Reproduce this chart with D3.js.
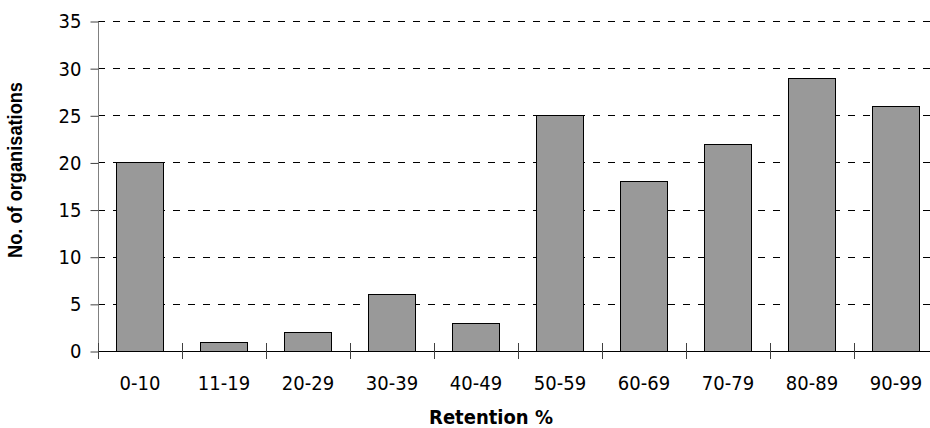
<!DOCTYPE html>
<html>
<head>
<meta charset="utf-8">
<script src="https://cdn.jsdelivr.net/npm/d3@7"></script>
<style>
  html, body { margin: 0; padding: 0; background: #fff; }
  svg { display: block; }
  .lbl { font-family: "DejaVu Sans Condensed", "DejaVu Sans", sans-serif; font-size: 20px; fill: #000; }
</style>
</head>
<body>
<svg id="chart" width="930" height="428"></svg>
<script>
// Retention bands and the number of organisations in each
const categories = ["0-10", "11-19", "20-29", "30-39", "40-49", "50-59", "60-69", "70-79", "80-89", "90-99"];
const organisations = [20, 1, 2, 6, 3, 25, 18, 22, 29, 26];
const yTicks = [0, 5, 10, 15, 20, 25, 30, 35];
const yTitle = "No. of organisations";
const xTitle = "Retention %";

const W = 930, H = 428;
const plotLeft = 98, plotRight = 938, plotTop = 21, plotBottom = 351;

const svg = d3.select("#chart");

const y = d3.scaleLinear().domain([0, 35]).range([plotBottom, plotTop]);
const xCat = d3.scaleBand().domain(categories).range([plotLeft, plotRight]).paddingInner(0.44).paddingOuter(0.22);
const xSlot = d3.scaleBand().domain(categories).range([plotLeft, plotRight]).padding(0);

// dashed gridlines
svg.append("g").selectAll("line").data(yTicks.filter(t => t > 0)).join("line")
  .attr("x1", plotLeft).attr("x2", W)
  .attr("y1", d => Math.round(y(d)) + 0.5).attr("y2", d => Math.round(y(d)) + 0.5)
  .attr("stroke", "#000").attr("stroke-width", 1).attr("stroke-dasharray", "7,8");

// bars
svg.append("g").selectAll("rect").data(organisations).join("rect")
  .attr("x", (d, i) => Math.round(xCat(categories[i])) + 0.5)
  .attr("width", Math.round(xCat.bandwidth()))
  .attr("y", d => Math.round(y(d)) + 0.5)
  .attr("height", d => Math.round(y(0)) - Math.round(y(d)))
  .attr("fill", "#999999").attr("stroke", "#000").attr("stroke-width", 1);

// y axis
const yAxis = d3.axisLeft(y).tickValues(yTicks).tickSize(8).tickPadding(9);
const gy = svg.append("g").attr("transform", `translate(${plotLeft + 0.5},0.5)`).call(yAxis);
gy.select(".domain").attr("stroke", "#808080").attr("d", `M0,${plotTop}V${plotBottom}`);
gy.selectAll(".tick line").attr("stroke", "#404040");
gy.selectAll(".tick text").attr("class", "lbl").attr("fill", "#000");

// x axis line and category boundary ticks
svg.append("line").attr("x1", plotLeft).attr("x2", W)
  .attr("y1", Math.round(y(0)) + 0.5).attr("y2", Math.round(y(0)) + 0.5)
  .attr("stroke", "#000").attr("stroke-width", 1);
const bounds = categories.map(c => xSlot(c));
svg.append("g").selectAll("line").data(bounds).join("line")
  .attr("x1", d => Math.round(d) + 0.5).attr("x2", d => Math.round(d) + 0.5)
  .attr("y1", plotBottom - 8).attr("y2", plotBottom + 8)
  .attr("stroke", "#404040").attr("stroke-width", 1);

// category labels
svg.append("g").selectAll("text").data(categories).join("text")
  .attr("class", "lbl")
  .attr("x", d => xSlot(d) + xSlot.bandwidth() / 2)
  .attr("y", 390)
  .attr("text-anchor", "middle")
  .text(d => d);

// axis titles
svg.append("text")
  .attr("transform", `translate(22,170) rotate(-90)`)
  .attr("text-anchor", "middle")
  .attr("textLength", 176).attr("lengthAdjust", "spacingAndGlyphs")
  .style("font-family", "'Liberation Sans Narrow', 'Liberation Sans', Arial, sans-serif")
  .style("font-weight", "bold").style("font-size", "20px")
  .text(yTitle);

svg.append("text")
  .attr("x", 491).attr("y", 424)
  .attr("text-anchor", "middle")
  .attr("class", "lbl")
  .style("font-weight", "bold")
  .text(xTitle);
</script>
</body>
</html>
